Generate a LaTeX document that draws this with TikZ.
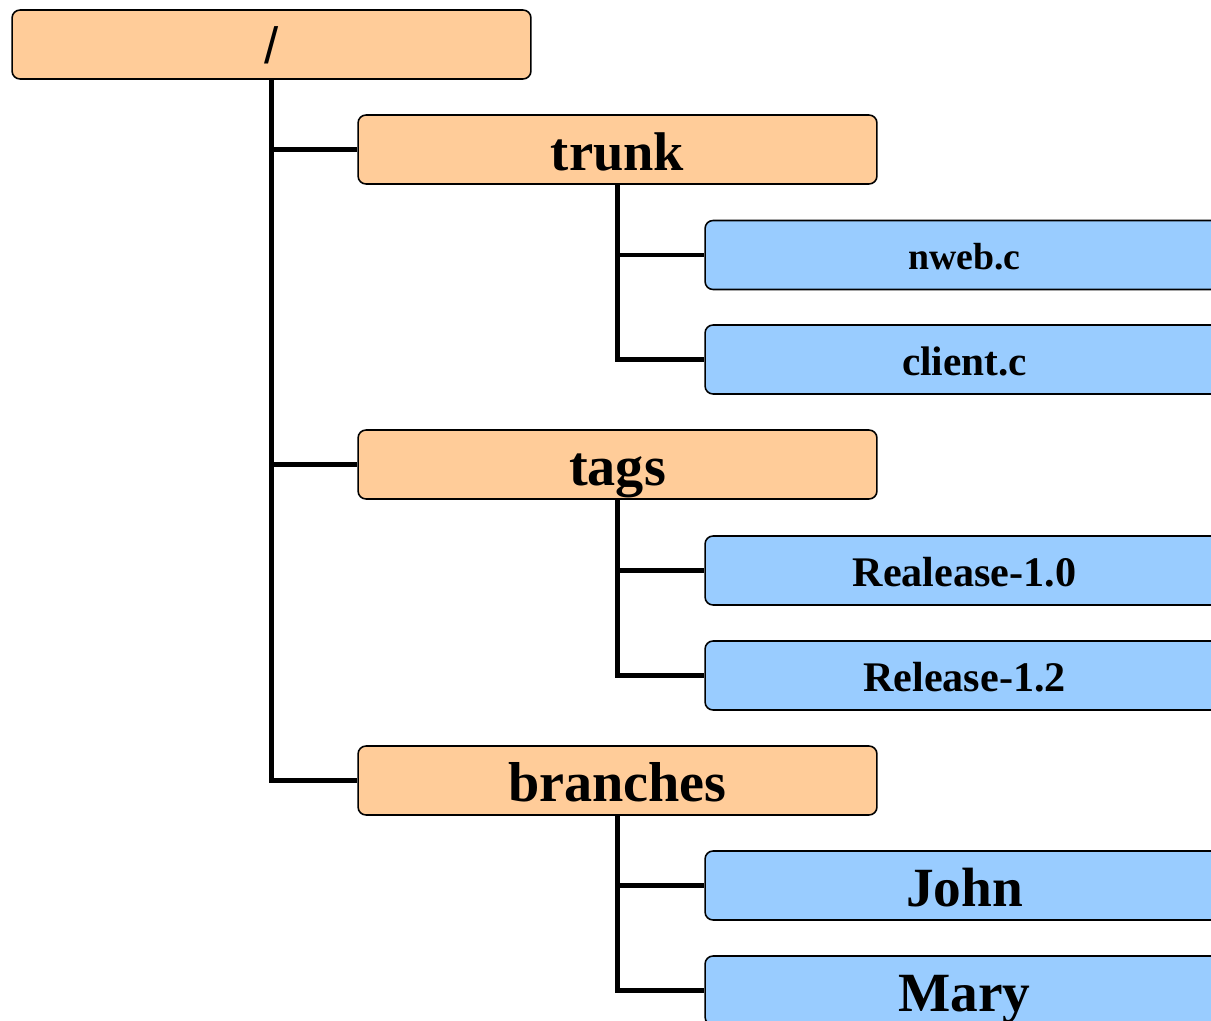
\documentclass[tikz,border=0pt]{standalone}
\usepackage{fontspec}
\setmainfont{Liberation Serif}
\newfontfamily\slashfont{Liberation Sans}
\definecolor{dirfill}{HTML}{FFCC99}
\definecolor{filefill}{HTML}{99CCFF}
\newcommand{\boxsize}[1]{\fontsize{#1}{#1}\selectfont}

\begin{document}
\begin{tikzpicture}[x=0.02cm, y=-0.02cm,
  dirbox/.style={draw, line width=0.9pt, rounded corners=0.16cm, fill=dirfill,
    minimum width=10.38cm, minimum height=1.38cm, inner sep=0pt,
    text height=0.76em, text depth=0pt},
  filebox/.style={dirbox, fill=filefill},
  tree/.style={line width=2.8pt}]

\useasboundingbox (0,0) rectangle (1211,1021);
\clip (0,0) rectangle (1211,1021);

\node[dirbox, node font=\slashfont\boxsize{29pt}] (root) at (271.5,44.5) {/};

\node[dirbox, node font=\bfseries\boxsize{31pt}] (trunk) at (617.5,149.5) {trunk};
\node[filebox, node font=\bfseries\boxsize{21.5pt}] (nweb) at (964.5,255) {nweb.c};
\node[filebox, node font=\bfseries\boxsize{23.5pt}] (client) at (964.5,359.5) {client.c};

\node[dirbox, node font=\bfseries\boxsize{32pt}] (tags) at (617.5,464.5) {tags};
\node[filebox, node font=\bfseries\boxsize{24pt}] (rel10) at (964.5,570.5) {Realease-1.0};
\node[filebox, node font=\bfseries\boxsize{24pt}] (rel12) at (964.5,675.5) {Release-1.2};

\node[dirbox, node font=\bfseries\boxsize{32pt}] (branches) at (617.5,780.5) {branches};
\node[filebox, node font=\bfseries\boxsize{31.5pt}] (john) at (964.5,885.5) {John};
\node[filebox, node font=\bfseries\boxsize{31.5pt}] (mary) at (964.5,990.5) {Mary};

% tree lines
\draw[tree] (root.south) |- (trunk.west);
\draw[tree] (root.south) |- (tags.west);
\draw[tree] (root.south) |- (branches.west);

\draw[tree] (trunk.south) |- (nweb.west);
\draw[tree] (trunk.south) |- (client.west);
\draw[tree] (tags.south) |- (rel10.west);
\draw[tree] (tags.south) |- (rel12.west);
\draw[tree] (branches.south) |- (john.west);
\draw[tree] (branches.south) |- (mary.west);

\end{tikzpicture}
\end{document}
